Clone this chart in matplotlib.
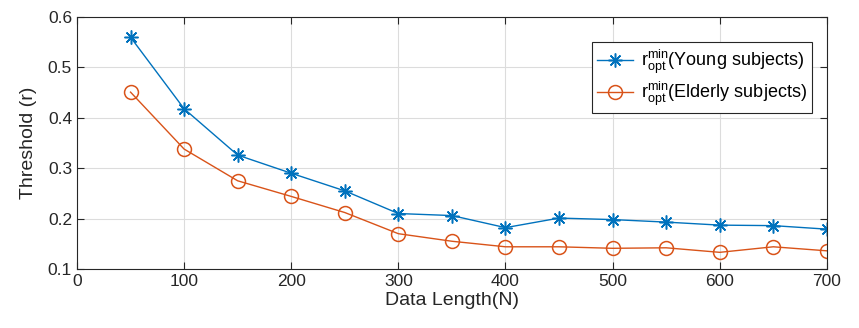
import numpy as np
import matplotlib.pyplot as plt

plt.rcParams['font.family'] = ['Liberation Sans', 'DejaVu Sans']
plt.rcParams['mathtext.fontset'] = 'custom'
plt.rcParams['mathtext.rm'] = 'Liberation Sans'
plt.rcParams['mathtext.it'] = 'Liberation Sans'

# data
data_length = [50, 100, 150, 200, 250, 300, 350, 400, 450, 500, 550, 600, 650, 700]
young = [0.560, 0.418, 0.326, 0.290, 0.255, 0.210, 0.206, 0.182, 0.201, 0.198, 0.193, 0.187, 0.186, 0.179]
elderly = [0.451, 0.338, 0.275, 0.244, 0.212, 0.170, 0.155, 0.144, 0.144, 0.141, 0.142, 0.133, 0.144, 0.136]

fig = plt.figure(figsize=(8.59, 3.28), dpi=100)
ax = fig.add_axes([0.0896, 0.180, 0.873, 0.768])

ax.plot(data_length, young, color='#0072BD', marker=(8, 2, 0), markersize=10, lw=1,
        markeredgewidth=1.1, label=r'$\mathregular{r_{opt}^{min}}$(Young subjects)')
ax.plot(data_length, elderly, color='#D95319', marker='o', markersize=10, lw=1,
        markerfacecolor='none', markeredgewidth=1.1,
        label=r'$\mathregular{r_{opt}^{min}}$(Elderly subjects)')

ax.set_xlim(0, 700)
ax.set_ylim(0.1, 0.6)
ax.set_xticks(np.arange(0, 701, 100))
ax.set_yticks(np.arange(0.1, 0.61, 0.1))
ax.set_yticklabels(['0.1', '0.2', '0.3', '0.4', '0.5', '0.6'])
ax.grid(True, color='#dcdcdc', lw=0.8)
ax.set_axisbelow(True)
ax.tick_params(direction='in', top=True, right=True, labelsize=12.5, colors='#262626', length=5)
for s in ax.spines.values():
    s.set_color('#262626')
    s.set_linewidth(0.8)

ax.set_xlabel('Data Length(N)', fontsize=14, color='#262626', labelpad=2)
ax.set_ylabel('Threshold (r)', fontsize=14, color='#262626', labelpad=8)

leg = ax.legend(loc='upper right', bbox_to_anchor=(0.98, 0.90), borderaxespad=0,
                fontsize=13, fancybox=False, edgecolor='#262626', framealpha=1,
                handlelength=2.0, borderpad=0.3, labelspacing=0.2, handletextpad=0.4)
leg.get_frame().set_linewidth(0.8)

fig.savefig('out.png', dpi=100)
